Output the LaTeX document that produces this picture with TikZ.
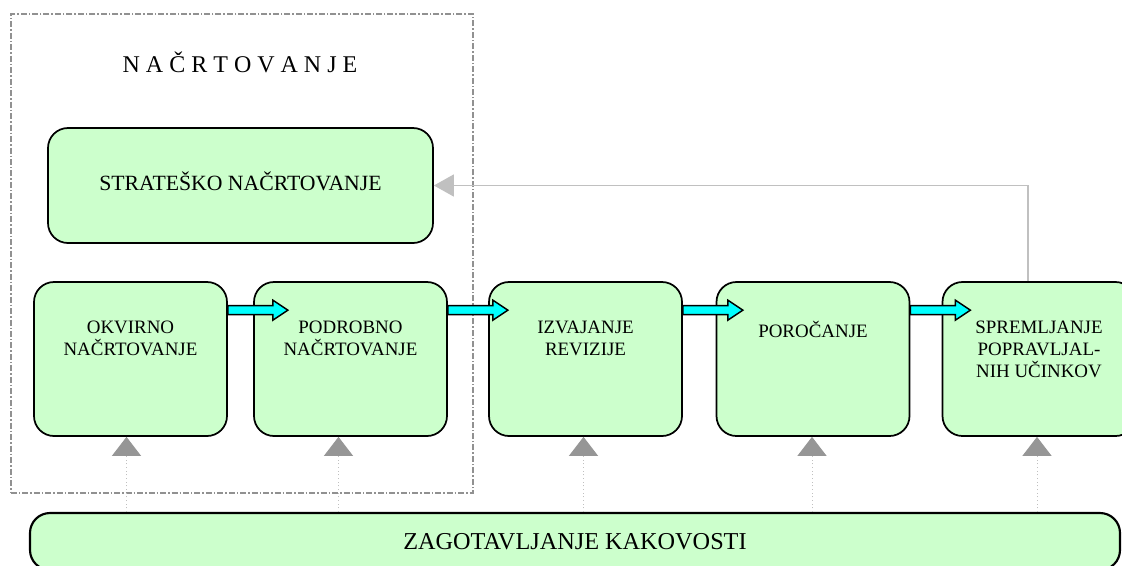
\documentclass[tikz,border=0pt]{standalone}
\usepackage{fontspec}
\setmainfont{Liberation Serif}
\usetikzlibrary{arrows.meta,positioning,calc}
\definecolor{boxGreen}{RGB}{204,255,204}
\definecolor{flowCyan}{RGB}{0,255,255}
\definecolor{tipGray}{RGB}{150,150,150}
\definecolor{lineGray}{RGB}{192,192,192}
\definecolor{frameGray}{RGB}{145,145,145}

\begin{document}
\begin{tikzpicture}[x=0.75pt,y=-0.75pt,
        stage/.style={draw,line width=1.3pt,fill=boxGreen,rounded corners=15pt,
                      minimum width=144.75pt,minimum height=115.5pt,inner sep=0pt},
        stagetext/.style={anchor=north,inner sep=0pt,align=center,
                          font=\fontsize{14.2pt}{16.5pt}\selectfont,
                          execute at begin node=\strut},
        planframe/.style={draw=frameGray,line width=0.9pt,
                          dash pattern=on 4.5pt off 1.5pt on 1.1pt off 1.5pt,
                          minimum width=346.5pt,minimum height=359.25pt,inner sep=0pt},
        flow/.style={draw,line width=1.1pt,fill=flowCyan,line join=miter},
        qaline/.style={draw=lineGray,line width=0.75pt,dotted,
                       -{Triangle[width=21.75pt,length=14.25pt,color=tipGray]}},
        fbline/.style={draw=lineGray,line width=1.1pt,
                       -{Triangle[width=16.5pt,length=15pt,color=lineGray]}}]
  \useasboundingbox (0,0) rectangle (1122,565);
  \clip (0,0) rectangle (1122,565);

  % planning frame
  \node[planframe] (plan) at (242,253.5) {};
  \node[anchor=base,inner sep=0pt,font=\fontsize{18pt}{20pt}\selectfont]
    (plantitle) at (240,72) {N A Č R T O V A N J E};

  \node[stage,minimum width=288.75pt,minimum height=86.25pt,
        text height=10.8pt,text depth=4pt,
        font=\fontsize{16.3pt}{18pt}\selectfont] (strat) at (240.5,185.5)
    {STRATEŠKO NAČRTOVANJE};

  % stages
  \node[stage] (b1) at (130.5,359) {};
  \node[stage] (b2) at (350.5,359) {};
  \node[stage] (b3) at (585.5,359) {};
  \node[stage] (b4) at (813,359) {};
  \node[stage] (b5) at (1039,359) {};

  \node[stagetext] (t1) at ($(b1.north)+(0,40)$) {OKVIRNO\\NAČRTOVANJE};
  \node[stagetext] (t2) at ($(b2.north)+(0,40)$) {PODROBNO\\NAČRTOVANJE};
  \node[stagetext] (t3) at ($(b3.north)+(0,40)$) {IZVAJANJE\\REVIZIJE};
  \node[stagetext] (t4) at ($(b4.north)+(0,40)$) {POROČANJE};
  \node[stagetext] (t5) at ($(b5.north)+(0,40)$) {SPREMLJANJE\\POPRAVLJAL-\\NIH UČINKOV};

  \node[stage,line width=1.6pt,minimum width=817.5pt,minimum height=42.75pt,
        font=\fontsize{18.2pt}{20pt}\selectfont] (q) at (575,541.5)
    {ZAGOTAVLJANJE KAKOVOSTI};

  % flow arrows
  \foreach \a in {1,...,4}{
    \coordinate (s\a) at ($(b\a.north east)+(0,29)$);
    \draw[flow] ($(s\a)+(0,-4.5)$) -- ++(45,0) -- ++(0,-5.5) -- ($(s\a)+(60,0)$)
      -- ($(s\a)+(45,10)$) -- ++(0,-5.5) -- ($(s\a)+(0,4.5)$) -- cycle;
  }

  % quality assurance
  \foreach \i/\dx in {1/-4,2/-12,3/-2,4/-1,5/-2}{
    \coordinate (qa\i) at ($(b\i.south)+(\dx,0)$);
    \draw[qaline] (qa\i |- q.north) -- (qa\i);
  }

  % feedback
  \draw[fbline] ($(b5.north)+(-11,0)$) |- (strat.east);
\end{tikzpicture}
\end{document}
